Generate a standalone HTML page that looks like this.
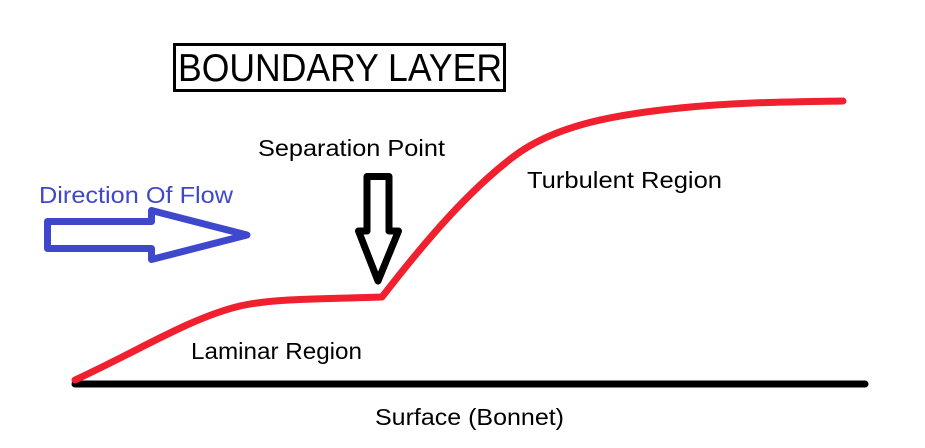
<!DOCTYPE html>
<html>
<head>
<meta charset="utf-8">
<style>
  html, body { margin: 0; padding: 0; background: #ffffff; }
  body { width: 925px; height: 448px; overflow: hidden; }
  svg { display: block; }
  text { font-family: "Liberation Sans", "DejaVu Sans", sans-serif; }
</style>
</head>
<body>
<svg width="925" height="448" viewBox="0 0 925 448" xmlns="http://www.w3.org/2000/svg">
  <rect x="0" y="0" width="925" height="448" fill="#ffffff"/>

  <!-- Title box -->
  <rect x="174.5" y="44.5" width="330" height="46" fill="none" stroke="#000" stroke-width="3"/>
  <text x="178" y="81" font-size="39" fill="#000" textLength="324" lengthAdjust="spacingAndGlyphs">BOUNDARY LAYER</text>

  <!-- Labels -->
  <text x="258" y="156" font-size="23" fill="#000" textLength="187" lengthAdjust="spacingAndGlyphs">Separation Point</text>
  <text x="39" y="203" font-size="23" fill="#3F48CC" textLength="194" lengthAdjust="spacingAndGlyphs">Direction Of Flow</text>
  <text x="527" y="188" font-size="23" fill="#000" textLength="195" lengthAdjust="spacingAndGlyphs">Turbulent Region</text>
  <text x="191" y="359" font-size="23" fill="#000" textLength="171" lengthAdjust="spacingAndGlyphs">Laminar Region</text>
  <text x="375" y="425" font-size="23" fill="#000" textLength="189" lengthAdjust="spacingAndGlyphs">Surface (Bonnet)</text>

  <!-- Blue flow arrow -->
  <path d="M47.5,221.5 L151.5,221.5 L151.5,210.5 L247,235 L151.5,259.5 L151.5,248.5 L47.5,248.5 Z"
        fill="none" stroke="#3F48CC" stroke-width="7" stroke-linejoin="round"/>

  <!-- Black separation arrow -->
  <path d="M367,176.5 L389,176.5 L389,231 L398.5,231 L378,281 L358.5,231 L367,231 Z"
        fill="none" stroke="#000" stroke-width="7" stroke-linejoin="round"/>

  <!-- Surface line -->
  <line x1="75" y1="384" x2="865" y2="384" stroke="#000" stroke-width="7" stroke-linecap="round"/>

  <!-- Boundary layer curve -->
  <path fill="none" stroke="#F0202E" stroke-width="7" stroke-linecap="round" stroke-linejoin="round"
    d="M75,380 C140,350 190,318 240,306 C275,298 330,299 382,297 C430,235 470,190 513,157 C556,124 620,114 680,108 C740,102 790,102 843,101"/>
</svg>
</body>
</html>
